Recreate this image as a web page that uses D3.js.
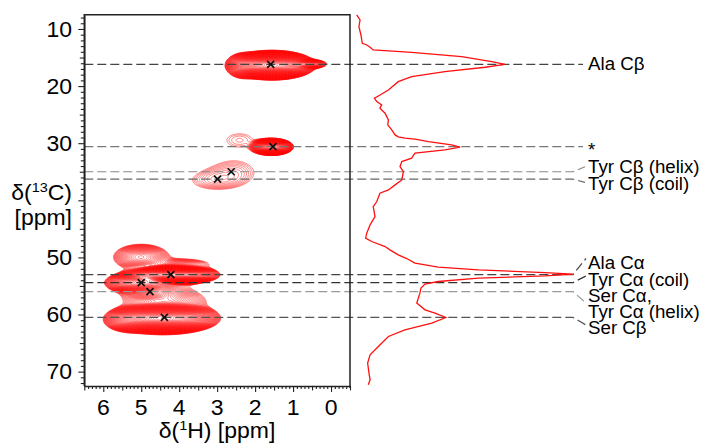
<!DOCTYPE html>
<html>
<head>
<meta charset="utf-8">
<script src="https://cdn.jsdelivr.net/npm/d3@7"></script>
<style>
body { margin: 0; background: #fff; }
text { font-family: "Liberation Sans", Arial, sans-serif; }
</style>
</head>
<body>
<svg id="chart" width="704" height="445"></svg>
<script>
// assigned cross peaks: 1H and 13C shifts (ppm) and their labels
var peakNames = ["Ala C\u03B2", "*", "Tyr C\u03B2 (helix)", "Tyr C\u03B2 (coil)", "Ala C\u03B1", "Tyr C\u03B1 (coil)", "Ser C\u03B1,|Tyr C\u03B1 (helix)", "Ser C\u03B2"];
var peakH = [1.59, 1.53, 2.63, 2.99, 4.22, 5.00, 4.77, 4.39];
var peakC = [16.2, 30.6, 35.0, 36.3, 53.0, 54.4, 56.0, 60.5];

// 2D contour components: centre (1H, 13C), widths, relative height
var blobH   = [1.55, 0.70, 2.30, 1.55, 2.40, 2.55, 3.10, 4.20, 5.00, 3.90, 5.00, 4.75, 4.40, 4.30, 5.30, 4.50];
var blobC   = [16.3, 16.1, 16.4, 30.6, 29.4, 34.9, 36.5, 53.0, 49.9, 51.2, 54.4, 56.0, 60.6, 57.8, 61.0, 56.5];
var blobWH  = [0.32, 0.22, 0.18, 0.17, 0.42, 0.50, 0.50, 0.36, 0.32, 0.45, 0.30, 0.30, 0.42, 0.50, 0.25, 0.60];
var blobWC  = [0.72, 0.32, 0.90, 0.45, 1.40, 1.80, 1.30, 0.50, 1.00, 0.60, 0.65, 0.70, 0.80, 1.10, 0.80, 3.50];
var blobAmp = [800, 40, 20, 300, 1.35, 1.6, 1.6, 600, 12, 3, 150, 15, 600, 6, 25, 2];

// 1D 13C projection trace: shift (ppm) and intensity (% of max)
var projPpm = [7.55, 8.42, 9.6, 11.05, 12.5, 12.8, 13.2, 13.67, 14.08, 14.85, 15.72, 16.18, 16.7, 17.47, 18.35, 19.22, 20.68, 21.73, 22.13, 22.72, 23.3, 23.88, 24.75, 25.93, 26.8, 27.68, 28.55, 28.9, 29.13, 29.3, 29.72, 30.3, 30.7, 31.18, 31.75, 32.63, 33.22, 34.1, 34.97, 36.43, 37.3, 38.18, 38.75, 40.22, 41.1, 42.85, 44.3, 45.75, 46.63, 47.22, 48.1, 48.68, 49.55, 50.2, 51.0, 51.7, 52.18, 52.65, 52.93, 53.23, 53.63, 54.22, 54.68, 55.38, 56.26, 58.0, 59.18, 59.75, 60.52, 61.5, 62.68, 63.85, 65.6, 67.05, 68.5, 70.25, 71.43, 72.3];
var projInt = [3.0, 4.5, 4.0, 4.9, 5.5, 7.5, 9.0, 10.4, 27.6, 50.0, 63.5, 69.4, 60.5, 42.5, 27.6, 21.6, 17.2, 12.7, 10.9, 12.0, 14.2, 13.4, 15.7, 17.2, 16.9, 18.7, 20.2, 21.6, 24.6, 29.1, 35.1, 45.5, 49.3, 42.5, 29.1, 27.6, 23.2, 22.4, 23.9, 23.2, 20.2, 17.2, 13.4, 12.0, 10.4, 11.2, 9.0, 7.5, 7.0, 9.7, 15.7, 17.9, 21.6, 25.4, 29.1, 39.5, 57.5, 87.3, 100, 87.3, 57.5, 39.5, 33.6, 31.8, 31.3, 29.9, 33.6, 38.1, 42.9, 36.6, 24.6, 17.2, 12.7, 9.0, 7.9, 8.5, 9.0, 8.2];

// axis tick labels (40 is hidden behind the axis title)
var hTickLabels = [6, 5, 4, 3, 2, 1, 0];
var cTickLabels = [10, 20, 30, 50, 60, 70];

var svg = d3.select("#chart");
var frame = {left: 84.3, right: 350, top: 14.7, bottom: 385.9};

var x = d3.scaleLinear().domain([6.5, -0.5]).range([frame.left, frame.right]);
var y = d3.scaleLinear().domain([7.5, 72.5]).range([frame.top, frame.bottom]);
var proj = d3.scaleLinear().domain([0, 100]).range([350, 573.3]);

svg.append("clipPath").attr("id", "plotClip")
    .append("rect")
    .attr("x", frame.left).attr("y", frame.top)
    .attr("width", frame.right - frame.left).attr("height", frame.bottom - frame.top);

//Build the 2D spectrum grid from the contour components
var hMin = -0.5, hMax = 6.5, dh = 0.02;
var cMin = 7.5, cMax = 72.5, dc = 0.08;
var nx = Math.round((hMax - hMin) / dh) + 1;
var ny = Math.round((cMax - cMin) / dc) + 1;
var grid = new Float64Array(nx * ny);
for (var j = 0; j < ny; j++) {
    var c = cMin + j * dc;
    for (var i = 0; i < nx; i++) {
        var h = hMin + i * dh;
        var v = 0;
        for (var k = 0; k < blobH.length; k++) {
            var u = (h - blobH[k]) / blobWH[k];
            var w = (c - blobC[k]) / blobWC[k];
            var r = u * u + w * w;
            if (r < 60) v += blobAmp[k] * Math.exp(-0.5 * r);
        }
        grid[j * nx + i] = v;
    }
}

//Contour levels grow by a constant factor, like the spectrum plot
var levels = d3.range(75).map(function(n) { return Math.pow(1.1, n); });
var contours = d3.contours().size([nx, ny]).thresholds(levels)(grid);

var toPixels = d3.geoTransform({
    point: function(px, py) {
        this.stream.point(x(hMin + px * dh), y(cMin + py * dc));
    }
});
var contourPath = d3.geoPath(toPixels);

svg.append("g")
    .attr("clip-path", "url(#plotClip)")
    .selectAll("path")
    .data(contours)
    .enter().append("path")
    .attr("d", contourPath)
    .attr("fill", "none")
    .attr("stroke", "#ff1010")
    .attr("stroke-width", 0.5);

//Dashed guide lines through each peak, with connectors to the labels
var labelX = 588;
var labelBase = [70, 156, 173, 190, 269, 286, 302, 333.5];
var connectorEnd = [583, 583, 585, 585, 586, 586, 586, 586];
var connectorY = [null, null, 166.7, 182.3, 258.5, 276, 303, 325];
var guideColors = ["#444", "#777", "#888", "#666", "#444", "#333", "#999", "#555"];

var guides = svg.append("g");
peakC.forEach(function(ppm, i) {
    var yy = y(ppm);
    var pts;
    if (connectorY[i] === null) {
        pts = [[frame.left, yy], [connectorEnd[i], yy]];
    } else {
        pts = [[frame.left, yy], [573, yy], [connectorEnd[i], connectorY[i]]];
    }
    guides.append("path")
        .attr("d", d3.line()(pts))
        .attr("fill", "none")
        .attr("stroke", guideColors[i])
        .attr("stroke-width", 1.2)
        .attr("stroke-dasharray", "9,4");
});

//Projection trace
svg.append("path")
    .datum(d3.zip(projPpm, projInt))
    .attr("d", d3.line()
        .x(function(d) { return proj(d[1]); })
        .y(function(d) { return y(d[0]); }))
    .attr("fill", "none")
    .attr("stroke", "#ff1010")
    .attr("stroke-width", 1.3);

//Peak markers
svg.append("g").selectAll("path")
    .data(d3.zip(peakH, peakC))
    .enter().append("path")
    .attr("d", function(d) {
        var px = x(d[0]), py = y(d[1]), s = 3.5;
        return "M" + (px - s) + "," + (py - s) + "L" + (px + s) + "," + (py + s) +
            "M" + (px - s) + "," + (py + s) + "L" + (px + s) + "," + (py - s);
    })
    .attr("stroke", "#111")
    .attr("stroke-width", 1.7);

//Text helper: the original lettering is a little wider than the font
function addText(parent, px, py, size, anchor) {
    return parent.append("text")
        .attr("transform", "translate(" + px + "," + py + ") scale(1.07,1)")
        .attr("text-anchor", anchor)
        .attr("font-size", size);
}

//Labels
var labels = svg.append("g").attr("fill", "#000");
peakNames.forEach(function(name, i) {
    name.split("|").forEach(function(line, n) {
        addText(labels, labelX, labelBase[i] + n * 16, 17.5, "start").text(line);
    });
});

//Frame
svg.append("path")
    .attr("d", "M" + frame.left + "," + frame.bottom + "V" + frame.top + "H" + frame.right + "V" + (frame.bottom + 2))
    .attr("fill", "none")
    .attr("stroke", "#222")
    .attr("stroke-width", 1.5);

//Axes
var yAxis = svg.append("g")
    .attr("transform", "translate(" + frame.left + ",0)")
    .call(d3.axisLeft(y).tickValues(d3.range(8, 73)).tickFormat("").tickSizeOuter(0));
yAxis.selectAll(".tick line").attr("x2", function(d) {
    return d % 10 === 0 ? -6 : (d % 5 === 0 ? -4.5 : -3.5);
});
yAxis.selectAll(".tick text").remove();
yAxis.select(".domain").attr("stroke", "#222").attr("stroke-width", 1.5);
yAxis.selectAll(".tick line").attr("stroke", "#222").attr("stroke-width", 1.1);

var xAxis = svg.append("g")
    .attr("transform", "translate(0," + frame.bottom + ")")
    .call(d3.axisBottom(x).tickValues(d3.range(-5, 66).map(function(n) { return n / 10; })).tickFormat("").tickSizeOuter(0));
xAxis.selectAll(".tick line").attr("y2", function(d) {
    var t = Math.round(d * 10);
    return t % 10 === 0 ? 6 : (t % 5 === 0 ? 4.5 : 3.2);
});
xAxis.selectAll(".tick text").remove();
xAxis.select(".domain").attr("stroke", "#222").attr("stroke-width", 1.5);
xAxis.selectAll(".tick line").attr("stroke", "#222").attr("stroke-width", 1.1);

var tickFont = 21.5;
var tickG = svg.append("g");
cTickLabels.forEach(function(d) {
    addText(tickG, 72, y(d) + 7.6, tickFont, "end").text(d);
});
hTickLabels.forEach(function(d) {
    addText(tickG, x(d), 415, tickFont, "middle").text(d);
});

//Axis titles
var yTitle = addText(svg, 72, 200, tickFont, "end");
yTitle.append("tspan").text("\u03B4(");
yTitle.append("tspan").attr("font-size", 13.5).attr("dy", -8).text("13");
yTitle.append("tspan").attr("dy", 8).text("C)");

addText(svg, 72, 225, tickFont, "end").text("[ppm]");

var xTitle = addText(svg, 217, 438, tickFont, "middle");
xTitle.append("tspan").text("\u03B4(");
xTitle.append("tspan").attr("font-size", 13.5).attr("dy", -8).text("1");
xTitle.append("tspan").attr("dy", 8).text("H) [ppm]");
</script>
</body>
</html>
